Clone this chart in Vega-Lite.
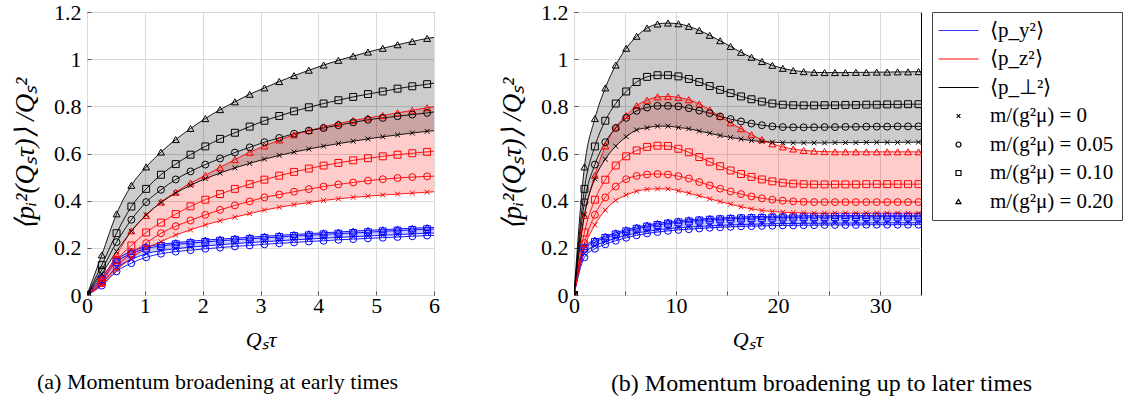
{
 "$schema": "https://vega.github.io/schema/vega-lite/v6.json",
 "background": "white",
 "padding": {"left": 11, "top": 0, "right": 5, "bottom": 5},
 "bounds": "flush",
 "spacing": 140,
 "datasets": {
  "early": [
   {"t":0,"p20":0,"p10":0,"p05":0,"p0":0,"z20":0,"z10":0,"z05":0,"z0":0,"y20":0,"y10":0,"y05":0,"y0":0},
   {"t":0.256,"p20":0.17,"p10":0.127,"p05":0.106,"p0":0.09,"z20":0.07,"z10":0.057,"z05":0.05,"z0":0.043,"y20":0.075,"y10":0.065,"y05":0.04,"y0":0.05},
   {"t":0.511,"p20":0.344,"p10":0.262,"p05":0.224,"p0":0.185,"z20":0.17,"z10":0.149,"z05":0.12,"z0":0.106,"y20":0.15,"y10":0.14,"y05":0.1,"y0":0.115},
   {"t":0.767,"p20":0.465,"p10":0.375,"p05":0.319,"p0":0.27,"z20":0.272,"z10":0.21,"z05":0.177,"z0":0.156,"y20":0.185,"y10":0.175,"y05":0.135,"y0":0.15},
   {"t":1.023,"p20":0.543,"p10":0.45,"p05":0.394,"p0":0.34,"z20":0.337,"z10":0.265,"z05":0.22,"z0":0.198,"y20":0.205,"y10":0.197,"y05":0.16,"y0":0.175},
   {"t":1.279,"p20":0.606,"p10":0.51,"p05":0.446,"p0":0.392,"z20":0.394,"z10":0.307,"z05":0.262,"z0":0.226,"y20":0.215,"y10":0.208,"y05":0.175,"y0":0.188},
   {"t":1.534,"p20":0.659,"p10":0.555,"p05":0.49,"p0":0.432,"z20":0.436,"z10":0.343,"z05":0.292,"z0":0.254,"y20":0.222,"y10":0.215,"y05":0.184,"y0":0.196},
   {"t":1.79,"p20":0.706,"p10":0.595,"p05":0.524,"p0":0.465,"z20":0.475,"z10":0.376,"z05":0.316,"z0":0.276,"y20":0.228,"y10":0.22,"y05":0.19,"y0":0.203},
   {"t":2.046,"p20":0.748,"p10":0.63,"p05":0.553,"p0":0.493,"z20":0.507,"z10":0.404,"z05":0.34,"z0":0.297,"y20":0.233,"y10":0.225,"y05":0.196,"y0":0.208},
   {"t":2.301,"p20":0.786,"p10":0.662,"p05":0.579,"p0":0.517,"z20":0.541,"z10":0.428,"z05":0.361,"z0":0.315,"y20":0.237,"y10":0.23,"y05":0.201,"y0":0.213},
   {"t":2.557,"p20":0.819,"p10":0.688,"p05":0.604,"p0":0.539,"z20":0.574,"z10":0.45,"z05":0.38,"z0":0.33,"y20":0.241,"y10":0.234,"y05":0.206,"y0":0.218},
   {"t":2.813,"p20":0.851,"p10":0.714,"p05":0.626,"p0":0.558,"z20":0.605,"z10":0.47,"z05":0.397,"z0":0.345,"y20":0.245,"y10":0.238,"y05":0.21,"y0":0.222},
   {"t":3.068,"p20":0.878,"p10":0.739,"p05":0.648,"p0":0.576,"z20":0.632,"z10":0.489,"z05":0.414,"z0":0.36,"y20":0.249,"y10":0.242,"y05":0.215,"y0":0.226},
   {"t":3.324,"p20":0.905,"p10":0.759,"p05":0.666,"p0":0.592,"z20":0.657,"z10":0.506,"z05":0.426,"z0":0.372,"y20":0.253,"y10":0.246,"y05":0.219,"y0":0.23},
   {"t":3.58,"p20":0.93,"p10":0.779,"p05":0.684,"p0":0.606,"z20":0.679,"z10":0.522,"z05":0.438,"z0":0.383,"y20":0.257,"y10":0.25,"y05":0.223,"y0":0.234},
   {"t":3.836,"p20":0.953,"p10":0.796,"p05":0.697,"p0":0.619,"z20":0.697,"z10":0.536,"z05":0.449,"z0":0.392,"y20":0.26,"y10":0.253,"y05":0.227,"y0":0.237},
   {"t":4.091,"p20":0.975,"p10":0.812,"p05":0.708,"p0":0.631,"z20":0.713,"z10":0.549,"z05":0.46,"z0":0.401,"y20":0.264,"y10":0.257,"y05":0.23,"y0":0.241},
   {"t":4.347,"p20":0.995,"p10":0.826,"p05":0.72,"p0":0.642,"z20":0.727,"z10":0.56,"z05":0.469,"z0":0.408,"y20":0.267,"y10":0.26,"y05":0.234,"y0":0.244},
   {"t":4.603,"p20":1.013,"p10":0.84,"p05":0.732,"p0":0.652,"z20":0.74,"z10":0.571,"z05":0.477,"z0":0.414,"y20":0.271,"y10":0.263,"y05":0.237,"y0":0.247},
   {"t":4.858,"p20":1.03,"p10":0.852,"p05":0.743,"p0":0.662,"z20":0.751,"z10":0.58,"z05":0.485,"z0":0.419,"y20":0.274,"y10":0.266,"y05":0.24,"y0":0.25},
   {"t":5.114,"p20":1.046,"p10":0.863,"p05":0.751,"p0":0.671,"z20":0.761,"z10":0.588,"z05":0.491,"z0":0.424,"y20":0.277,"y10":0.27,"y05":0.243,"y0":0.253},
   {"t":5.37,"p20":1.061,"p10":0.875,"p05":0.758,"p0":0.679,"z20":0.772,"z10":0.595,"z05":0.496,"z0":0.428,"y20":0.28,"y10":0.273,"y05":0.246,"y0":0.256},
   {"t":5.625,"p20":1.075,"p10":0.885,"p05":0.765,"p0":0.687,"z20":0.783,"z10":0.601,"z05":0.5,"z0":0.432,"y20":0.283,"y10":0.276,"y05":0.249,"y0":0.259},
   {"t":5.881,"p20":1.088,"p10":0.894,"p05":0.772,"p0":0.694,"z20":0.794,"z10":0.607,"z05":0.503,"z0":0.436,"y20":0.286,"y10":0.279,"y05":0.252,"y0":0.262},
   {"t":6.137,"p20":1.097,"p10":0.903,"p05":0.781,"p0":0.7,"z20":0.803,"z10":0.613,"z05":0.505,"z0":0.44,"y20":0.288,"y10":0.281,"y05":0.253,"y0":0.263}
  ],
  "late": [
   {"t":0,"p20":0,"p10":0,"p05":0,"p0":0,"z20":0,"z10":0,"z05":0,"z0":0,"y20":0,"y10":0,"y05":0,"y0":0},
   {"t":1.023,"p20":0.543,"p10":0.45,"p05":0.394,"p0":0.34,"z20":0.337,"z10":0.265,"z05":0.22,"z0":0.198,"y20":0.205,"y10":0.197,"y05":0.16,"y0":0.175},
   {"t":2.046,"p20":0.748,"p10":0.63,"p05":0.553,"p0":0.493,"z20":0.507,"z10":0.404,"z05":0.34,"z0":0.297,"y20":0.233,"y10":0.225,"y05":0.196,"y0":0.208},
   {"t":3.068,"p20":0.878,"p10":0.739,"p05":0.648,"p0":0.576,"z20":0.632,"z10":0.489,"z05":0.414,"z0":0.36,"y20":0.249,"y10":0.242,"y05":0.215,"y0":0.226},
   {"t":4.091,"p20":0.975,"p10":0.812,"p05":0.708,"p0":0.631,"z20":0.713,"z10":0.549,"z05":0.46,"z0":0.401,"y20":0.264,"y10":0.257,"y05":0.23,"y0":0.241},
   {"t":5.114,"p20":1.046,"p10":0.863,"p05":0.751,"p0":0.671,"z20":0.761,"z10":0.588,"z05":0.491,"z0":0.424,"y20":0.277,"y10":0.27,"y05":0.243,"y0":0.253},
   {"t":6.137,"p20":1.097,"p10":0.903,"p05":0.781,"p0":0.7,"z20":0.803,"z10":0.613,"z05":0.505,"z0":0.44,"y20":0.288,"y10":0.281,"y05":0.253,"y0":0.263},
   {"t":7.16,"p20":1.132,"p10":0.925,"p05":0.795,"p0":0.709,"z20":0.826,"z10":0.628,"z05":0.511,"z0":0.448,"y20":0.297,"y10":0.29,"y05":0.261,"y0":0.27},
   {"t":8.183,"p20":1.149,"p10":0.932,"p05":0.802,"p0":0.716,"z20":0.84,"z10":0.633,"z05":0.513,"z0":0.45,"y20":0.304,"y10":0.297,"y05":0.267,"y0":0.276},
   {"t":9.206,"p20":1.153,"p10":0.932,"p05":0.802,"p0":0.716,"z20":0.842,"z10":0.632,"z05":0.511,"z0":0.45,"y20":0.31,"y10":0.303,"y05":0.272,"y0":0.281},
   {"t":10.229,"p20":1.15,"p10":0.927,"p05":0.8,"p0":0.71,"z20":0.838,"z10":0.62,"z05":0.504,"z0":0.442,"y20":0.315,"y10":0.308,"y05":0.276,"y0":0.285},
   {"t":11.252,"p20":1.139,"p10":0.916,"p05":0.792,"p0":0.705,"z20":0.828,"z10":0.605,"z05":0.494,"z0":0.432,"y20":0.319,"y10":0.312,"y05":0.279,"y0":0.288},
   {"t":12.275,"p20":1.122,"p10":0.903,"p05":0.782,"p0":0.695,"z20":0.81,"z10":0.585,"z05":0.479,"z0":0.42,"y20":0.322,"y10":0.316,"y05":0.282,"y0":0.291},
   {"t":13.298,"p20":1.101,"p10":0.886,"p05":0.771,"p0":0.686,"z20":0.785,"z10":0.565,"z05":0.465,"z0":0.408,"y20":0.325,"y10":0.319,"y05":0.285,"y0":0.293},
   {"t":14.32,"p20":1.078,"p10":0.87,"p05":0.757,"p0":0.676,"z20":0.757,"z10":0.546,"z05":0.451,"z0":0.396,"y20":0.327,"y10":0.321,"y05":0.287,"y0":0.295},
   {"t":15.343,"p20":1.054,"p10":0.856,"p05":0.746,"p0":0.668,"z20":0.73,"z10":0.528,"z05":0.439,"z0":0.385,"y20":0.329,"y10":0.323,"y05":0.289,"y0":0.297},
   {"t":16.366,"p20":1.029,"p10":0.842,"p05":0.736,"p0":0.661,"z20":0.705,"z10":0.513,"z05":0.428,"z0":0.374,"y20":0.331,"y10":0.325,"y05":0.291,"y0":0.299},
   {"t":17.389,"p20":1.008,"p10":0.83,"p05":0.727,"p0":0.655,"z20":0.68,"z10":0.501,"z05":0.418,"z0":0.365,"y20":0.332,"y10":0.326,"y05":0.292,"y0":0.3},
   {"t":18.412,"p20":0.99,"p10":0.82,"p05":0.72,"p0":0.651,"z20":0.659,"z10":0.49,"z05":0.41,"z0":0.358,"y20":0.333,"y10":0.327,"y05":0.293,"y0":0.301},
   {"t":19.435,"p20":0.974,"p10":0.812,"p05":0.715,"p0":0.648,"z20":0.641,"z10":0.482,"z05":0.404,"z0":0.354,"y20":0.334,"y10":0.328,"y05":0.294,"y0":0.302},
   {"t":20.458,"p20":0.961,"p10":0.807,"p05":0.712,"p0":0.646,"z20":0.628,"z10":0.476,"z05":0.4,"z0":0.351,"y20":0.335,"y10":0.329,"y05":0.295,"y0":0.303},
   {"t":21.481,"p20":0.952,"p10":0.805,"p05":0.711,"p0":0.645,"z20":0.619,"z10":0.472,"z05":0.397,"z0":0.349,"y20":0.335,"y10":0.329,"y05":0.295,"y0":0.303},
   {"t":22.504,"p20":0.947,"p10":0.804,"p05":0.711,"p0":0.645,"z20":0.613,"z10":0.47,"z05":0.395,"z0":0.348,"y20":0.336,"y10":0.33,"y05":0.296,"y0":0.304},
   {"t":23.527,"p20":0.944,"p10":0.804,"p05":0.711,"p0":0.645,"z20":0.61,"z10":0.469,"z05":0.394,"z0":0.347,"y20":0.336,"y10":0.33,"y05":0.296,"y0":0.304},
   {"t":24.55,"p20":0.943,"p10":0.805,"p05":0.712,"p0":0.645,"z20":0.608,"z10":0.469,"z05":0.394,"z0":0.347,"y20":0.336,"y10":0.33,"y05":0.297,"y0":0.304},
   {"t":25.573,"p20":0.943,"p10":0.805,"p05":0.712,"p0":0.646,"z20":0.607,"z10":0.469,"z05":0.394,"z0":0.347,"y20":0.337,"y10":0.331,"y05":0.297,"y0":0.305},
   {"t":26.595,"p20":0.943,"p10":0.806,"p05":0.713,"p0":0.646,"z20":0.607,"z10":0.469,"z05":0.394,"z0":0.347,"y20":0.337,"y10":0.331,"y05":0.297,"y0":0.305},
   {"t":27.618,"p20":0.944,"p10":0.806,"p05":0.713,"p0":0.646,"z20":0.607,"z10":0.469,"z05":0.394,"z0":0.347,"y20":0.337,"y10":0.331,"y05":0.297,"y0":0.305},
   {"t":28.641,"p20":0.944,"p10":0.807,"p05":0.714,"p0":0.647,"z20":0.607,"z10":0.47,"z05":0.394,"z0":0.347,"y20":0.337,"y10":0.331,"y05":0.298,"y0":0.305},
   {"t":29.664,"p20":0.945,"p10":0.807,"p05":0.714,"p0":0.647,"z20":0.607,"z10":0.47,"z05":0.394,"z0":0.347,"y20":0.338,"y10":0.332,"y05":0.298,"y0":0.306},
   {"t":30.687,"p20":0.945,"p10":0.808,"p05":0.714,"p0":0.647,"z20":0.607,"z10":0.47,"z05":0.394,"z0":0.347,"y20":0.338,"y10":0.332,"y05":0.298,"y0":0.306},
   {"t":31.71,"p20":0.946,"p10":0.808,"p05":0.715,"p0":0.647,"z20":0.607,"z10":0.47,"z05":0.394,"z0":0.347,"y20":0.338,"y10":0.332,"y05":0.298,"y0":0.306},
   {"t":32.733,"p20":0.946,"p10":0.809,"p05":0.715,"p0":0.648,"z20":0.607,"z10":0.47,"z05":0.394,"z0":0.347,"y20":0.338,"y10":0.332,"y05":0.298,"y0":0.306},
   {"t":33.756,"p20":0.947,"p10":0.809,"p05":0.715,"p0":0.648,"z20":0.607,"z10":0.47,"z05":0.394,"z0":0.347,"y20":0.338,"y10":0.332,"y05":0.298,"y0":0.306},
   {"t":34.779,"p20":0.947,"p10":0.81,"p05":0.715,"p0":0.648,"z20":0.607,"z10":0.47,"z05":0.394,"z0":0.347,"y20":0.338,"y10":0.332,"y05":0.298,"y0":0.306}
  ]
 },
 "hconcat": [
  {
   "width": 347, "height": 283,
   "data": {"name": "early"},
   "title": {"text": "(a) Momentum broadening at early times", "orient": "bottom", "anchor": "middle", "frame": "group", "dx": -43, "offset": 22},
   "layer": [
    {"mark": {"type": "area", "color": "#0000ff", "opacity": 0.2, "interpolate": "monotone", "clip": true},
     "encoding": {"x": {"field": "t", "type": "quantitative", "scale": {"domain": [0, 6], "nice": false}},
                  "y": {"field": "y20", "type": "quantitative", "scale": {"domain": [0, 1.2], "nice": false}}, "y2": {"field": "y0"}}},
    {"mark": {"type": "area", "color": "#ff0000", "opacity": 0.2, "interpolate": "monotone", "clip": true},
     "encoding": {"x": {"field": "t", "type": "quantitative"}, "y": {"field": "z20", "type": "quantitative"}, "y2": {"field": "z0"}}},
    {"mark": {"type": "area", "color": "#000000", "opacity": 0.2, "interpolate": "monotone", "clip": true},
     "encoding": {"x": {"field": "t", "type": "quantitative"}, "y": {"field": "p20", "type": "quantitative"}, "y2": {"field": "p0"}}},
    {"transform": [{"fold": ["y0","y05","y10","y20","z0","z05","z10","z20","p0","p05","p10","p20"], "as": ["series", "v"]}],
     "mark": {"type": "line", "strokeWidth": 0.9, "interpolate": "monotone", "clip": true},
     "encoding": {
      "x": {"field": "t", "type": "quantitative", "axis": {"title": "Qₛτ", "values": [0,0.5,1,1.5,2,2.5,3,3.5,4,4.5,5,5.5,6], "labelExpr": "datum.value % 1 == 0 ? format(datum.value, 'd') : ''"}},
      "y": {"field": "v", "type": "quantitative", "axis": {"title": "⟨pᵢ²(Qₛτ)⟩ /Qₛ²", "values": [0,0.1,0.2,0.3,0.4,0.5,0.6,0.7,0.8,0.9,1,1.1,1.2], "labelExpr": "round(datum.value*10) % 2 == 0 ? format(datum.value, '~g') : ''"}},
      "color": {"field": "series", "type": "nominal", "scale": {"domain": ["y0","y05","y10","y20","z0","z05","z10","z20","p0","p05","p10","p20"], "range": ["#0000ff","#0000ff","#0000ff","#0000ff","#ff0000","#ff0000","#ff0000","#ff0000","#000000","#000000","#000000","#000000"]}, "legend": null}
     }},
    {"transform": [{"fold": ["y0","y05","y10","y20","z0","z05","z10","z20","p0","p05","p10","p20"], "as": ["series", "v"]}],
     "mark": {"type": "point", "filled": false, "size": 48, "strokeWidth": 1, "opacity": 1, "clip": true},
     "encoding": {
      "x": {"field": "t", "type": "quantitative"},
      "y": {"field": "v", "type": "quantitative"},
      "color": {"field": "series", "type": "nominal", "scale": {"domain": ["y0","y05","y10","y20","z0","z05","z10","z20","p0","p05","p10","p20"], "range": ["#0000ff","#0000ff","#0000ff","#0000ff","#ff0000","#ff0000","#ff0000","#ff0000","#000000","#000000","#000000","#000000"]}, "legend": null},
      "shape": {"field": "series", "type": "nominal", "scale": {"domain": ["y0","y05","y10","y20","z0","z05","z10","z20","p0","p05","p10","p20"], "range": ["M-0.7,-0.7L0.7,0.7M0.7,-0.7L-0.7,0.7","circle","square","triangle-up","M-0.7,-0.7L0.7,0.7M0.7,-0.7L-0.7,0.7","circle","square","triangle-up","M-0.7,-0.7L0.7,0.7M0.7,-0.7L-0.7,0.7","circle","square","triangle-up"]}, "legend": null}
     }}
   ],
   "resolve": {"scale": {"color": "independent", "shape": "independent"}}
  },
  {
   "width": 347, "height": 283,
   "data": {"name": "late"},
   "title": {"text": "(b) Momentum broadening up to later times", "orient": "bottom", "anchor": "middle", "frame": "group", "dx": 74, "offset": 22, "fontSize": 24},
   "layer": [
    {"mark": {"type": "area", "color": "#0000ff", "opacity": 0.2, "interpolate": "monotone", "clip": true},
     "encoding": {"x": {"field": "t", "type": "quantitative", "scale": {"domain": [0, 34], "nice": false}},
                  "y": {"field": "y20", "type": "quantitative", "scale": {"domain": [0, 1.2], "nice": false}}, "y2": {"field": "y0"}}},
    {"mark": {"type": "area", "color": "#ff0000", "opacity": 0.2, "interpolate": "monotone", "clip": true},
     "encoding": {"x": {"field": "t", "type": "quantitative"}, "y": {"field": "z20", "type": "quantitative"}, "y2": {"field": "z0"}}},
    {"mark": {"type": "area", "color": "#000000", "opacity": 0.2, "interpolate": "monotone", "clip": true},
     "encoding": {"x": {"field": "t", "type": "quantitative"}, "y": {"field": "p20", "type": "quantitative"}, "y2": {"field": "p0"}}},
    {"transform": [{"fold": ["y0","y05","y10","y20","z0","z05","z10","z20","p0","p05","p10","p20"], "as": ["series", "v"]}],
     "mark": {"type": "line", "strokeWidth": 0.9, "interpolate": "monotone", "clip": true},
     "encoding": {
      "x": {"field": "t", "type": "quantitative", "axis": {"title": "Qₛτ", "values": [0,2.5,5,7.5,10,12.5,15,17.5,20,22.5,25,27.5,30,32.5], "labelExpr": "datum.value % 10 == 0 ? format(datum.value, 'd') : ''"}},
      "y": {"field": "v", "type": "quantitative", "axis": {"title": "⟨pᵢ²(Qₛτ)⟩ /Qₛ²", "values": [0,0.1,0.2,0.3,0.4,0.5,0.6,0.7,0.8,0.9,1,1.1,1.2], "labelExpr": "round(datum.value*10) % 2 == 0 ? format(datum.value, '~g') : ''"}},
      "color": {"field": "series", "type": "nominal", "scale": {"domain": ["y0","y05","y10","y20","z0","z05","z10","z20","p0","p05","p10","p20"], "range": ["#0000ff","#0000ff","#0000ff","#0000ff","#ff0000","#ff0000","#ff0000","#ff0000","#000000","#000000","#000000","#000000"]}, "legend": null}
     }},
    {"transform": [{"fold": ["y0","y05","y10","y20","z0","z05","z10","z20","p0","p05","p10","p20"], "as": ["series", "v"]}],
     "mark": {"type": "point", "filled": false, "size": 48, "strokeWidth": 1, "opacity": 1, "clip": true},
     "encoding": {
      "x": {"field": "t", "type": "quantitative"},
      "y": {"field": "v", "type": "quantitative"},
      "color": {"field": "series", "type": "nominal", "scale": {"domain": ["y0","y05","y10","y20","z0","z05","z10","z20","p0","p05","p10","p20"], "range": ["#0000ff","#0000ff","#0000ff","#0000ff","#ff0000","#ff0000","#ff0000","#ff0000","#000000","#000000","#000000","#000000"]}, "legend": null},
      "shape": {"field": "series", "type": "nominal", "scale": {"domain": ["y0","y05","y10","y20","z0","z05","z10","z20","p0","p05","p10","p20"], "range": ["M-0.7,-0.7L0.7,0.7M0.7,-0.7L-0.7,0.7","circle","square","triangle-up","M-0.7,-0.7L0.7,0.7M0.7,-0.7L-0.7,0.7","circle","square","triangle-up","M-0.7,-0.7L0.7,0.7M0.7,-0.7L-0.7,0.7","circle","square","triangle-up"]}, "legend": null}
     }},
    {"data": {"values": []},
     "mark": {"type": "point", "filled": false, "opacity": 1},
     "encoding": {
      "stroke": {"field": "item", "type": "nominal", "scale": {"domain": ["⟨p_y²⟩","⟨p_z²⟩","⟨p_⊥²⟩","m/(g²μ) = 0","m/(g²μ) = 0.05","m/(g²μ) = 0.10","m/(g²μ) = 0.20"], "range": ["#3333ff","#ff0000","#000000","#000000","#000000","#000000","#000000"]}, "legend": {"title": null, "orient": "none", "legendX": 358, "legendY": 0}},
      "shape": {"field": "item", "type": "nominal", "scale": {"domain": ["⟨p_y²⟩","⟨p_z²⟩","⟨p_⊥²⟩","m/(g²μ) = 0","m/(g²μ) = 0.05","m/(g²μ) = 0.10","m/(g²μ) = 0.20"], "range": ["M-8,0L8,0","M-8,0L8,0","M-8,0L8,0","M-0.75,-0.75L0.75,0.75M0.75,-0.75L-0.75,0.75","circle","square","triangle-up"]}, "legend": {"title": null, "orient": "none", "legendX": 358, "legendY": 0}}
     }}
   ],
   "resolve": {"scale": {"color": "independent", "shape": "independent", "stroke": "independent"}}
  }
 ],
 "resolve": {"scale": {"color": "independent", "shape": "independent", "stroke": "independent"}},
 "config": {
  "font": "Liberation Serif",
  "view": {"stroke": "#000000", "strokeWidth": 1},
  "axis": {"labelFont": "Liberation Serif", "labelFontSize": 22, "labelColor": "#000000", "titleFont": "Liberation Serif", "titleFontSize": 22, "titleFontWeight": "normal", "titleFontStyle": "italic", "titleColor": "#000000", "gridColor": "#d9d9d9", "gridWidth": 1, "grid": true, "domain": false, "ticks": true, "tickSize": -4, "tickColor": "#555555", "tickWidth": 1, "labelPadding": 10, "labelFlush": false, "labelOverlap": false},
  "axisX": {"titlePadding": 13, "labelPadding": 4},
  "axisY": {"titlePadding": 14, "titleFontSize": 27},
  "legend": {"labelFont": "Liberation Serif", "labelFontSize": 21, "labelColor": "#000000", "labelLimit": 0, "strokeColor": "#444444", "padding": 8, "symbolSize": 25, "symbolStrokeWidth": 1.2, "symbolOffset": 8, "labelOffset": 21, "rowPadding": 6.5, "symbolOpacity": 1},
  "title": {"font": "Liberation Serif", "fontSize": 22, "fontWeight": "normal", "color": "#000000"}
 }
}
